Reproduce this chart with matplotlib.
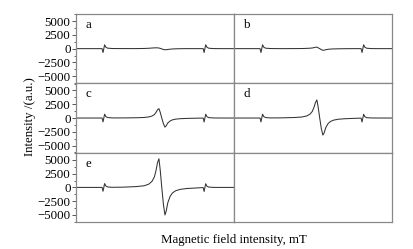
import matplotlib.pyplot as plt
from matplotlib.ticker import MultipleLocator

plt.rcParams['font.family'] = ['Liberation Serif', 'DejaVu Serif']

# shared field axis (arbitrary units, no tick labels in the original)
field = [0, 10, 16.4, 17.0, 18.0, 18.8, 20.0, 23, 30, 38, 43, 46, 48, 49.5, 50.5,
         51.5, 52.4, 53.2, 54.2, 55.2, 56.2, 57.0, 58.0, 59.5, 61, 63, 66, 70, 76,
         80.4, 81.0, 82.0, 82.8, 84.0, 87, 93, 100]

spec_a = [0, 0, 0, -700, 700, 250, 80, 20, 10, 10, 30, 70, 110, 140, 150,
          140, 110, 50, -50, -150, -200, -190, -150, -100, -60, -30, -10, 0, 0,
          0, -700, 700, 250, 70, 10, 0, 0]
spec_b = [0, 0, 0, -700, 700, 250, 80, 20, 0, 10, 20, 50, 80, 120, 180,
          250, 280, 150, 0, -180, -300, -280, -200, -120, -80, -50, -30, -10, 0,
          0, -700, 700, 250, 70, 10, 0, 0]
spec_c = [0, 0, 0, -700, 700, 250, 80, 20, 20, 50, 100, 200, 360, 630, 1000,
          1500, 1700, 1050, 0, -1000, -1650, -1400, -900, -530, -330, -200, -120, -70, -30,
          -10, -710, 690, 240, 70, 10, 0, 0]
spec_d = [0, 0, 0, -700, 700, 250, 80, 20, 30, 90, 190, 380, 700, 1200, 1900,
          2800, 3300, 2000, 0, -1900, -3100, -2700, -1750, -1000, -630, -380, -220, -130, -60,
          -20, -720, 680, 230, 60, 10, 0, 0]
spec_e = [0, 0, 0, -700, 700, 250, 80, 20, 50, 150, 300, 600, 1100, 1900, 3000,
          4500, 5200, 3200, 0, -3000, -5000, -4300, -2800, -1600, -1000, -600, -350, -200, -100,
          -30, -730, 670, 220, 60, 0, 0, 0]

spectra = [spec_a, spec_b, spec_c, spec_d, spec_e]
letters = ['a', 'b', 'c', 'd', 'e']
yticks = [-5000, -2500, 0, 2500, 5000]

fig, axes = plt.subplots(3, 2, figsize=(4.14, 2.49), dpi=100, sharex=True, sharey=True)
fig.subplots_adjust(left=0.184, right=0.947, top=0.944, bottom=0.108, wspace=0, hspace=0)

frame = '#888888'
for i, ax in enumerate(axes.flat):
    for s in ax.spines.values():
        s.set_color(frame)
        s.set_linewidth(0.9)
    ax.set_xlim(0, 100)
    ax.set_ylim(-6300, 6300)
    ax.set_xticks([])
    ax.set_yticks(yticks)
    ax.yaxis.set_minor_locator(MultipleLocator(1250))
    ax.tick_params(axis='y', which='major', direction='out', length=3, width=0.7,
                   color='#555555', labelsize=9.3, pad=1)
    ax.tick_params(axis='y', which='minor', direction='out', length=1.8, width=0.6,
                   color='#555555')
    if i % 2 == 1:
        ax.tick_params(axis='y', which='both', left=False, labelleft=False)
    if i < len(spectra):
        ax.plot(field, spectra[i], color='#333333', linewidth=0.75)
        ax.text(0.06, 0.80, letters[i], transform=ax.transAxes, fontsize=9.3)

fig.text(0.072, 0.53, 'Intensity /(a.u.)', rotation=90, ha='center', va='center', fontsize=9.3)
fig.text(0.565, 0.035, 'Magnetic field intensity, mT', ha='center', va='center', fontsize=9.3)

fig.savefig('out.png', dpi=100)
